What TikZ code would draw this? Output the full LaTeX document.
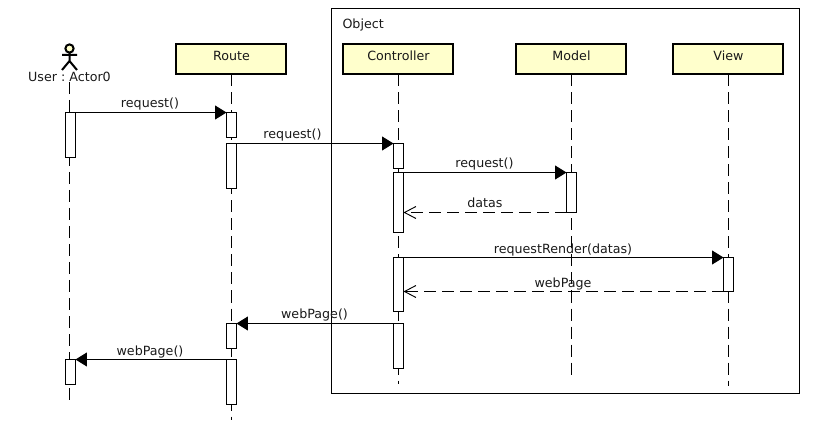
\documentclass[tikz,border=0pt]{standalone}
\usepackage{fontspec}
\setmainfont{DejaVu Sans}
\usetikzlibrary{arrows.meta}
\definecolor{headfill}{HTML}{FFFFCC}
\frenchspacing
\tikzset{
  lbl/.style={inner sep=0pt,outer sep=0pt,anchor=base,font=\fontsize{9.5pt}{11pt}\selectfont\frenchspacing,text=black!90},
  headbox/.style={draw=black,line width=1.5pt,fill=headfill,minimum width=82.5pt,minimum height=22.5pt,inner sep=0pt,outer sep=0pt},
  act/.style={draw=black,line width=0.75pt,fill=white,minimum width=7.5pt,inner sep=0pt,outer sep=0pt,anchor=north},
  lifeline/.style={line width=0.75pt,dash pattern=on 9pt off 4.5pt},
  callarrow/.style={line width=0.75pt,-{Triangle[length=8.6pt,width=10.5pt]}},
  retarrow/.style={line width=0.75pt,dash pattern=on 9pt off 4.5pt,-{Straight Barb[length=8.6pt,width=9pt,line width=0.7pt]}},
  framebox/.style={draw=black,line width=0.75pt,inner sep=0pt,outer sep=0pt,minimum width=351pt,minimum height=288.4pt,anchor=north west},
}
\begin{document}
\begin{tikzpicture}[x=0.75pt,y=-0.75pt]
\useasboundingbox (0,0) rectangle (836,431);
% enclosing frame
\node[framebox] (frame) at (331.5,8.5) {};
\node[lbl,anchor=base west] (objlabel) at (342.5,29) {Object};
% lifeline heads
\node[headbox] (route) at (231,59) {};
\node[headbox] (ctrl) at (398,59) {};
\node[headbox] (model) at (571,59) {};
\node[headbox] (view) at (728,59) {};
\node[lbl] (routelabel) at (231.5,61) {Route};
\node[lbl] (ctrllabel) at (398.5,61) {Controller};
\node[lbl] (modellabel) at (571.5,61) {Model};
\node[lbl] (viewlabel) at (728.5,61) {View};
% actor
\node[draw=black,line width=1.5pt,fill=headfill,circle,minimum size=6.2pt,inner sep=0pt,outer sep=0pt] (ahead) at (69.5,48.5) {};
\coordinate (hip) at (69.5,61);
\coordinate (larm) at (62,55);
\coordinate (rarm) at (77,55);
\coordinate (lleg) at (62,70);
\coordinate (rleg) at (77,70);
\draw[line width=1.5pt] (ahead.south) -- (hip) (larm) -- (rarm) (lleg) -- (hip) -- (rleg);
\node[lbl] (userlabel) at (69.5,81.5) {User : Actor0};
% lifelines
\coordinate (userstart) at (69.5,82);
\coordinate (userend) at (69.5,400);
\coordinate (routeend) at (231.5,419.5);
\coordinate (ctrlend) at (398.5,384);
\coordinate (modelend) at (571.5,374.5);
\coordinate (viewend) at (728.5,386);
\draw[lifeline] (userstart) -- (userend);
\draw[lifeline] (231.5,74.5) -- (routeend);
\draw[lifeline] (398.5,74.5) -- (ctrlend);
\draw[lifeline] (571.5,74.5) -- (modelend);
\draw[lifeline] (728.5,74.5) -- (viewend);
% activations
\node[act,minimum height=45*0.75pt] (u1) at (70.5,112.5) {};
\node[act,minimum height=25*0.75pt] (u2) at (70.5,359.5) {};
\node[act,minimum height=25*0.75pt] (r1) at (231.5,112.5) {};
\node[act,minimum height=45*0.75pt] (r2) at (231.5,143.5) {};
\node[act,minimum height=25*0.75pt] (r3) at (231.5,323.5) {};
\node[act,minimum height=45*0.75pt] (r4) at (231.5,359.5) {};
\node[act,minimum height=25*0.75pt] (c1) at (398.5,143.5) {};
\node[act,minimum height=60*0.75pt] (c2) at (398.5,172.5) {};
\node[act,minimum height=54*0.75pt] (c3) at (398.5,257.5) {};
\node[act,minimum height=45*0.75pt] (c4) at (398.5,323.5) {};
\node[act,minimum height=40*0.75pt] (m1) at (571.5,172.5) {};
\node[act,minimum height=34*0.75pt] (v1) at (728.5,257.5) {};
% messages
\draw[callarrow] (u1.north east) -- (r1.north west);
\draw[callarrow] (r2.north east) -- (c1.north west);
\draw[callarrow] (c2.north east) -- (m1.north west);
\draw[retarrow] (m1.south west) -- (m1.south west -| c2.east);
\draw[callarrow] (c3.north east) -- (v1.north west);
\draw[retarrow] (v1.south west) -- (v1.south west -| c3.east);
\draw[callarrow] (c4.north west) -- (r3.north east);
\draw[callarrow] (r4.north west) -- (u2.north east);
% message labels
\node[lbl] (m1label) at (150,108) {request()};
\node[lbl] (m2label) at (292.5,139) {request()};
\node[lbl] (m3label) at (484.5,168) {request()};
\node[lbl] (m4label) at (485,208) {datas};
\node[lbl] (m5label) at (563,253) {requestRender(datas)};
\node[lbl] (m6label) at (563,287) {webPage};
\node[lbl] (m7label) at (314.5,319) {webPage()};
\node[lbl] (m8label) at (150,355) {webPage()};
\end{tikzpicture}
\end{document}
